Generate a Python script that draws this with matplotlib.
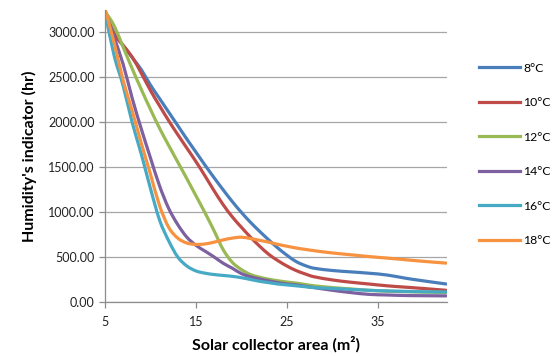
import matplotlib
matplotlib.use("Agg")
import matplotlib.pyplot as plt
from matplotlib.path import Path
from matplotlib.patches import PathPatch
from matplotlib.lines import Line2D

plt.rcParams['font.family'] = ['Lato', 'DejaVu Sans']

x = [5, 6, 7, 8, 9, 10, 11, 12, 13, 14, 15, 16, 17, 18, 19, 20, 21, 22, 23, 24,
     25, 26, 27, 28, 30, 32, 34, 36, 38, 40, 42.5]

t8 = [3230, 2985, 2850, 2715, 2580, 2410, 2260, 2110, 1960, 1810, 1665, 1520, 1380, 1245, 1115,
      995, 885, 785, 690, 600, 520, 450, 405, 375, 350, 335, 320, 300, 265, 235, 200]
t10 = [3230, 2980, 2850, 2720, 2540, 2350, 2180, 2015, 1860, 1710, 1560, 1400, 1235, 1080, 945,
       830, 720, 620, 530, 460, 400, 350, 312, 280, 245, 220, 200, 180, 165, 150, 130]
t12 = [3230, 3070, 2830, 2590, 2360, 2140, 1930, 1740, 1555, 1370, 1180, 990, 790, 580, 440,
       360, 305, 275, 253, 236, 222, 210, 195, 180, 160, 145, 130, 120, 115, 110, 105]
t14 = [3230, 2940, 2640, 2260, 1920, 1600, 1290, 1040, 860, 720, 630, 565, 500, 430, 375,
       315, 280, 255, 235, 215, 200, 190, 175, 160, 130, 105, 85, 78, 72, 70, 68]
t16 = [3220, 2740, 2400, 1990, 1640, 1260, 910, 680, 500, 400, 345, 320, 305, 295, 285,
       270, 250, 230, 215, 200, 190, 180, 170, 160, 150, 140, 130, 123, 118, 114, 112]
t18 = [3260, 2880, 2460, 2120, 1760, 1420, 1070, 830, 710, 655, 640, 645, 665, 690, 710,
       720, 705, 685, 665, 640, 620, 600, 585, 570, 545, 525, 505, 488, 470, 452, 432]

series = [t8, t10, t12, t14, t16, t18]
labels = ['8°C', '10°C', '12°C', '14°C', '16°C', '18°C']
colors = ['#4A7EBB', '#BE4B48', '#98B954', '#7D60A0', '#46AAC5', '#F69240']

yticks = [0, 500, 1000, 1500, 2000, 2500, 3000]
xticks = [5, 15, 25, 35]

LW = 2.3


def smooth_path(xs, ys):
    # Excel-style smoothed line: cubic Bezier segments through the data points
    n = len(xs)
    verts = [(xs[0], ys[0])]
    codes = [Path.MOVETO]
    for i in range(n - 1):
        p0 = (xs[i - 1], ys[i - 1]) if i > 0 else (xs[i], ys[i])
        p1 = (xs[i], ys[i])
        p2 = (xs[i + 1], ys[i + 1])
        p3 = (xs[i + 2], ys[i + 2]) if i + 2 < n else p2
        c1 = (p1[0] + (p2[0] - p0[0]) / 6, p1[1] + (p2[1] - p0[1]) / 6)
        c2 = (p2[0] - (p3[0] - p1[0]) / 6, p2[1] - (p3[1] - p1[1]) / 6)
        verts += [c1, c2, p2]
        codes += [Path.CURVE4] * 3
    return Path(verts, codes)


fig = plt.figure(figsize=(5.52, 3.56), dpi=100)
ax = fig.add_axes([105/552, 1-302/356, (447-105)/552, (302-9.5)/356])

handles = []
for s, lab, c in zip(series, labels, colors):
    patch = PathPatch(smooth_path(x, s), facecolor='none', edgecolor=c, lw=LW,
                      capstyle='round', joinstyle='round')
    ax.add_patch(patch)
    handles.append(Line2D([], [], color=c, lw=LW, label=lab))

ax.set_xlim(5, 42.6)
ax.set_ylim(0, 3250)
ax.set_yticks(yticks)
ax.set_yticklabels([f'{v:.2f}' for v in yticks])
ax.set_xticks(xticks)
ax.set_xticklabels([str(v) for v in xticks])
ax.grid(axis='y', color='#A6A6A6', lw=0.9)
ax.set_axisbelow(True)
for sp in ['top', 'right']:
    ax.spines[sp].set_visible(False)
for sp in ['left', 'bottom']:
    ax.spines[sp].set_color('#8C8C8C')
    ax.spines[sp].set_linewidth(0.9)
ax.tick_params(axis='both', colors='#8C8C8C', length=4, width=0.9, labelsize=9,
               labelcolor='#222222')
ax.tick_params(axis='x', pad=6)

ax.set_ylabel("Humidity's indicator (hr)", fontsize=11.5, fontweight='bold', labelpad=8)
ax.set_xlabel("Solar collector area (m²)", fontsize=11.5, fontweight='bold', labelpad=6)

ax.legend(handles=handles, loc='upper left', bbox_to_anchor=(1.08, 0.835), frameon=False,
          fontsize=8.8, handlelength=3.3, handletextpad=0.3, labelspacing=1.92, borderaxespad=0)

fig.savefig('out.png', dpi=100)
